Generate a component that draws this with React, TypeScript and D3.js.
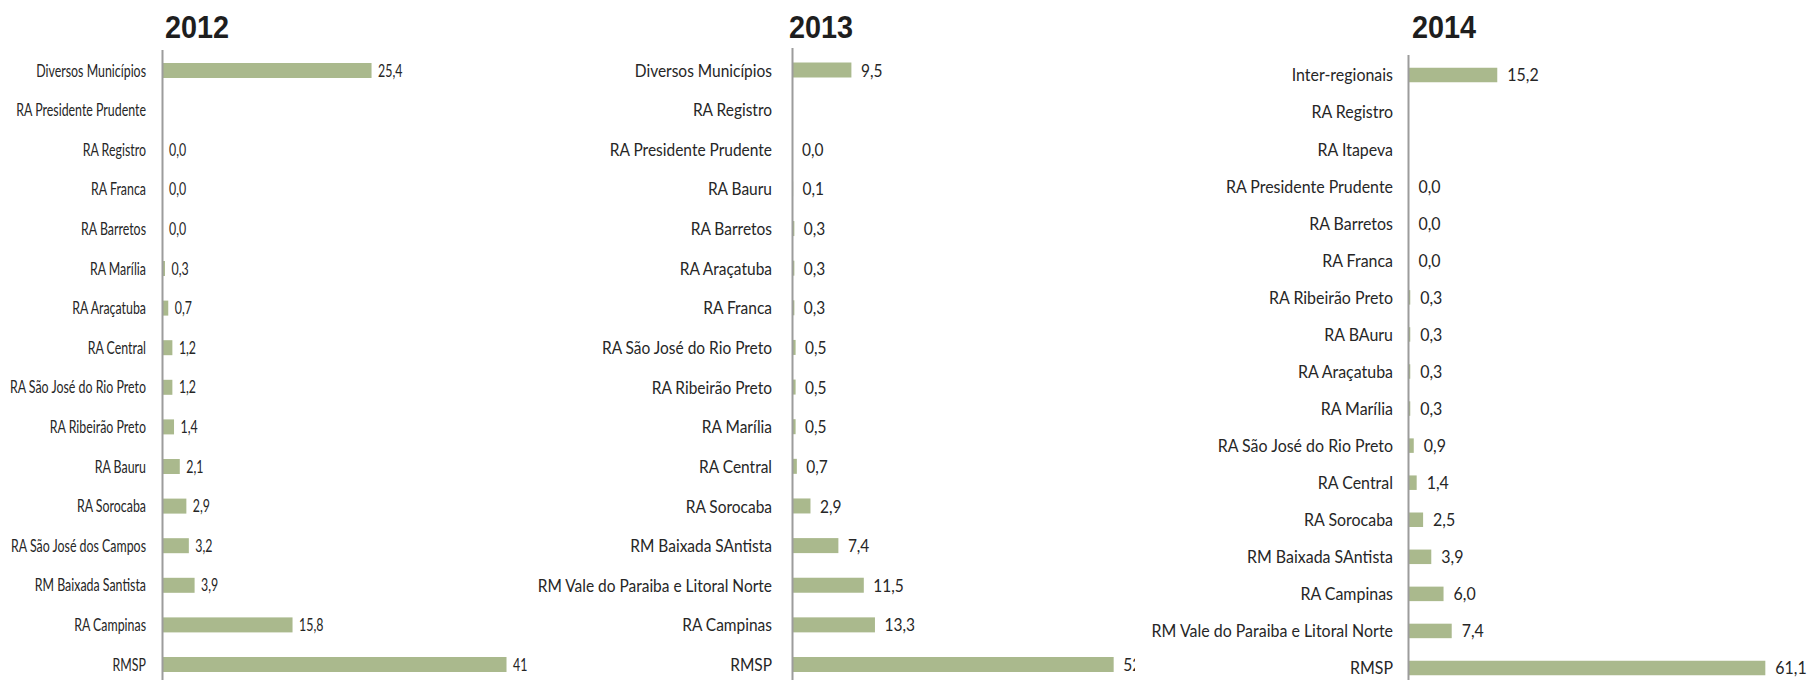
import React from "react";
import * as d3 from "d3";

// ---------- DATA ----------
const categories2012 = [
  "Diversos Municípios", "RA Presidente Prudente", "RA Registro", "RA Franca", "RA Barretos",
  "RA Marília", "RA Araçatuba", "RA Central", "RA São José do Rio Preto", "RA Ribeirão Preto",
  "RA Bauru", "RA Sorocaba", "RA São José dos Campos", "RM Baixada Santista", "RA Campinas", "RMSP",
];
const values2012: (number | null)[] = [25.4, null, 0.0, 0.0, 0.0, 0.3, 0.7, 1.2, 1.2, 1.4, 2.1, 2.9, 3.2, 3.9, 15.8, 41.8];
const valueLabels2012 = ["25,4", "", "0,0", "0,0", "0,0", "0,3", "0,7", "1,2", "1,2", "1,4", "2,1", "2,9", "3,2", "3,9", "15,8", "41"];

const categories2013 = [
  "Diversos Municípios", "RA Registro", "RA Presidente Prudente", "RA Bauru", "RA Barretos",
  "RA Araçatuba", "RA Franca", "RA São José do Rio Preto", "RA Ribeirão Preto", "RA Marília",
  "RA Central", "RA Sorocaba", "RM Baixada SAntista", "RM Vale do Paraiba e Litoral Norte", "RA Campinas", "RMSP",
];
const values2013: (number | null)[] = [9.5, null, 0.0, 0.1, 0.3, 0.3, 0.3, 0.5, 0.5, 0.5, 0.7, 2.9, 7.4, 11.5, 13.3, 51.8];
const valueLabels2013 = ["9,5", "", "0,0", "0,1", "0,3", "0,3", "0,3", "0,5", "0,5", "0,5", "0,7", "2,9", "7,4", "11,5", "13,3", "52"];

const categories2014 = [
  "Inter-regionais", "RA Registro", "RA Itapeva", "RA Presidente Prudente", "RA Barretos", "RA Franca",
  "RA Ribeirão Preto", "RA BAuru", "RA Araçatuba", "RA Marília", "RA São José do Rio Preto", "RA Central",
  "RA Sorocaba", "RM Baixada SAntista", "RA Campinas", "RM Vale do Paraiba e Litoral Norte", "RMSP",
];
const values2014: (number | null)[] = [15.2, null, null, 0.0, 0.0, 0.0, 0.3, 0.3, 0.3, 0.3, 0.9, 1.4, 2.5, 3.9, 6.0, 7.4, 61.1];
const valueLabels2014 = ["15,2", "", "", "0,0", "0,0", "0,0", "0,3", "0,3", "0,3", "0,3", "0,9", "1,4", "2,5", "3,9", "6,0", "7,4", "61,1"];

const titles = ["2012", "2013", "2014"];

// ---------- LAYOUT ----------
const W = 1809;
const H = 680;
const BAR_COLOR = "#aab98d";
const AXIS_COLOR = "#9c9c9c";
const TEXT_COLOR = "#262626";

type Panel = {
  title: string;
  cats: string[];
  vals: (number | null)[];
  labels: string[];
  axisX: number;
  axisTop: number;
  yFirst: number;
  yLast: number;
  pxPerUnit: number;
  labelGap: number;
  valueGap: number;
  fontSize: number;
  sx: number;
  barH: number;
  titleX: number;
  clipRight: number;
};

const panels: Panel[] = [
  {
    title: titles[0], cats: categories2012, vals: values2012, labels: valueLabels2012,
    axisX: 162.5, axisTop: 50, yFirst: 70.5, yLast: 664.5, pxPerUnit: 8.23,
    labelGap: 16.5, valueGap: 6.5, fontSize: 16.3, sx: 0.76, barH: 15, titleX: 165, clipRight: 560,
  },
  {
    title: titles[1], cats: categories2013, vals: values2013, labels: valueLabels2013,
    axisX: 792.5, axisTop: 48, yFirst: 70, yLast: 664.5, pxPerUnit: 6.2,
    labelGap: 20.5, valueGap: 9.5, fontSize: 17.2, sx: 0.9, barH: 15, titleX: 789, clipRight: 1135,
  },
  {
    title: titles[2], cats: categories2014, vals: values2014, labels: valueLabels2014,
    axisX: 1408.5, axisTop: 55, yFirst: 75, yLast: 668, pxPerUnit: 5.84,
    labelGap: 15.5, valueGap: 10, fontSize: 16.8, sx: 0.95, barH: 14.5, titleX: 1412, clipRight: 1809,
  },
];

const LABEL_FONT = "Lato, 'Open Sans', sans-serif";
const TITLE_FONT = "'Liberation Sans', Arial, sans-serif";

function PanelChart({ p, idx }: { p: Panel; idx: number }) {
  const maxV = d3.max(p.vals, (v) => (v == null ? 0 : v)) as number;
  const x = d3.scaleLinear().domain([0, maxV]).range([p.axisX, p.axisX + p.pxPerUnit * maxV]);
  const y = d3.scalePoint<string>().domain(p.cats).range([p.yFirst, p.yLast]);
  const clipId = `clip-${idx}`;
  const baseOff = p.fontSize * 0.38;
  return (
    <g clipPath={`url(#${clipId})`}>
      <defs>
        <clipPath id={clipId}>
          <rect x={0} y={0} width={p.clipRight} height={H} />
        </clipPath>
      </defs>
      <text
        transform={`translate(${p.titleX},38) scale(0.93,1)`}
        fontFamily={TITLE_FONT}
        fontWeight="bold"
        fontSize={31}
        fill="#1e1e1e"
      >
        {p.title}
      </text>
      {p.cats.map((c, i) => {
        const cy = y(c) as number;
        const v = p.vals[i];
        return (
          <g key={c + i}>
            <text
              transform={`translate(${p.axisX - p.labelGap},${cy + baseOff}) scale(${p.sx},1)`}
              textAnchor="end"
              fontFamily={LABEL_FONT}
              fontSize={p.fontSize}
              fill={TEXT_COLOR}
            >
              {c}
            </text>
            {v != null && (
              <rect
                x={x(0)}
                y={cy - p.barH / 2}
                width={Math.max(0, x(v) - x(0))}
                height={p.barH}
                fill={BAR_COLOR}
              />
            )}
            {v != null && p.labels[i] !== "" && (
              <text
                transform={`translate(${x(v) + p.valueGap},${cy + baseOff}) scale(${p.sx},1)`}
                fontFamily={LABEL_FONT}
                fontSize={p.fontSize}
                fill={TEXT_COLOR}
              >
                {p.labels[i]}
              </text>
            )}
          </g>
        );
      })}
      <line x1={p.axisX} x2={p.axisX} y1={p.axisTop} y2={H} stroke={AXIS_COLOR} strokeWidth={2} />
    </g>
  );
}

export default function App() {
  return (
    <svg
      width={W}
      height={H}
      viewBox={`0 0 ${W} ${H}`}
      style={{ position: "absolute", left: 0, top: 0, display: "block", background: "#fff" }}
    >
      <rect x={0} y={0} width={W} height={H} fill="#fff" />
      {panels.map((p, i) => (
        <PanelChart key={p.title} p={p} idx={i} />
      ))}
    </svg>
  );
}
